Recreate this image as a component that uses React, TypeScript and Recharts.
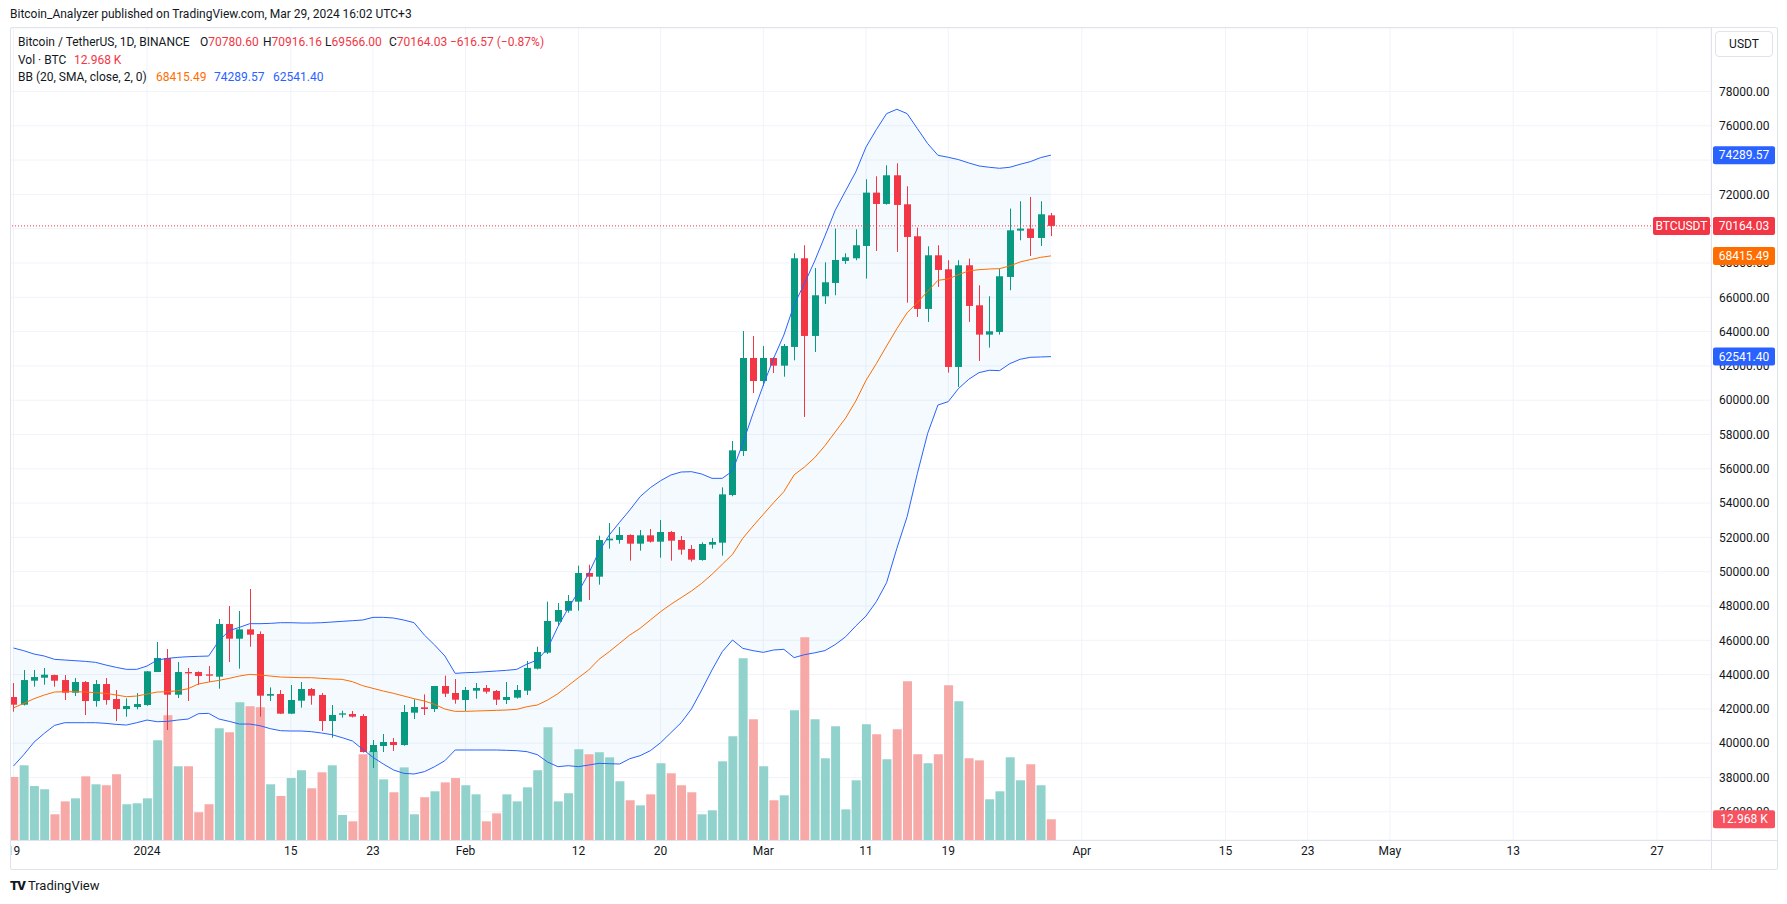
import React from 'react'
import { ComposedChart, Bar, Line, Area, XAxis, YAxis, CartesianGrid, ReferenceLine, Cell } from 'recharts'

// Daily candles, Dec 19 2023 .. Mar 29 2024 (day 0 = Jan 1 2024)
const FIRST_DAY = -13

const open = [
  42692, 42245, 43645, 43819, 43975, 43683, 42945, 43567, 42459, 43450, 42575, 41992, 42109,
  42226, 44150, 44966, 42828, 44150, 44150, 44014, 43878, 46949, 46094, 46638, 46366, 42770, 42868, 41722, 42480,
  43160, 42810, 41294, 41664, 41702, 41586, 39486, 39836, 40070, 39895, 41780, 42091, 41994, 43335, 42927,
  42519, 43063, 43218, 43044, 42519, 42655, 43063, 44346, 45278, 47086, 47727, 48253, 49924, 49710, 51829,
  51848, 52140, 51634, 52120, 51751, 52315, 51848, 51324, 50682, 51576, 51693, 54472, 57038,
  62461, 61120, 62461, 62014, 63106, 68275, 63747, 66060, 66837, 68120, 68275, 68994, 72104, 71443, 73115,
  71424, 69558, 65321, 68450, 67634, 61939, 67867, 65535, 63824, 63980, 67187, 69888, 70005, 69461, 70780.6,
]
const high = [
  43508, 44267, 44267, 44383, 44000, 43975, 43800, 43625, 43683, 43800, 43100, 42614, 42925,
  44209, 45900, 45491, 44733, 44383, 44189, 44500, 47241, 47999, 47707, 48990, 46521, 43256, 43100, 43393, 43568,
  43218, 42927, 42227, 41897, 41877, 41702, 40186, 40536, 40303, 42227, 42557, 42849, 43340, 43937, 43743,
  43277, 43510, 43393, 43102, 43568, 43393, 44793, 45628, 48253, 48175, 48641, 50352, 50410, 52101, 52839,
  52606, 52179, 52431, 52490, 53014, 52373, 52081, 51557, 51712, 51965, 54919, 57621, 64035,
  63744, 63161, 62500, 63277, 68567, 69034, 67712, 68042, 70005, 68567, 69966, 72882, 73057, 73697, 73815,
  72474, 70063, 68975, 69034, 68159, 68159, 68256, 66701, 66060, 67673, 71171, 71599, 71852, 71599, 70916.16,
]
const low = [
  41837, 42200, 43295, 43412, 43295, 42517, 42750, 41642, 42128, 42245, 41292, 41545, 41973,
  42180, 44150, 40767, 42634, 42459, 43392, 43567, 43178, 44733, 44345, 45627, 41545, 42459, 41700, 41700, 42071,
  42246, 40711, 40322, 41488, 41500, 39450, 38553, 39486, 39545, 39850, 41411, 41644, 41819, 42694, 42305,
  41877, 42596, 42888, 42227, 42285, 42596, 42810, 44300, 45200, 46853, 47611, 47727, 48350, 49244, 51343,
  51634, 50643, 51226, 51700, 50818, 50643, 50993, 50585, 50643, 51343, 50935, 54400, 56747,
  60420, 60828, 61586, 61372, 62327, 59023, 62813, 65613, 66118, 67945, 68159, 67090, 68703, 71404, 68645,
  65690, 64854, 64563, 66604, 61609, 60772, 64563, 62288, 63067, 63824, 66409, 69325, 68411, 68994, 69566,
]
const close = [
  42245, 43683, 43858, 43994, 43645, 42945, 43567, 42459, 43450, 42517, 41992, 42167, 42284,
  44190, 44966, 42828, 44150, 44073, 43917, 43936, 46949, 46094, 46638, 46327, 42770, 42867, 41722, 42519, 43160,
  42771, 41294, 41644, 41741, 41547, 39486, 39895, 40070, 39895, 41819, 42110, 41994, 43335, 42888, 42538,
  43102, 43218, 43005, 42538, 42694, 43102, 44390, 45317, 47125, 47766, 48291, 49924, 49710, 51848, 51926,
  52140, 51634, 52120, 51751, 52315, 51809, 51285, 50701, 51615, 51732, 54511, 57077, 62461,
  61120, 62461, 62014, 63161, 68275, 63747, 66118, 66876, 68178, 68334, 69034, 72104, 71443, 73115, 71385,
  69519, 65321, 68450, 67595, 61939, 67867, 65496, 63824, 64019, 67226, 69908, 70005, 69461, 70841, 70164.03,
]
// volume, thousands of BTC
const volume = [
  39.5, 46.8, 33.8, 31.8, 16.1, 24.2, 26.1, 39.9, 34.9, 34.3, 41.2, 22.4, 23.0,
  26.1, 62.5, 78.1, 46.2, 46.2, 17.4, 22.4, 70.0, 67.5, 86.3, 83.8, 83.1, 34.9, 27.6, 38.8, 43.7,
  32.4, 42.4, 46.8, 15.7, 11.7, 53.7, 55.8, 38.0, 29.9, 45.5, 16.1, 26.8, 30.5, 36.1, 38.8,
  34.3, 28.6, 11.7, 16.7, 28.6, 24.2, 33.0, 43.7, 70.6, 24.2, 29.3, 56.8, 53.7, 54.9, 51.8,
  36.8, 24.9, 21.7, 28.6, 48.1, 41.8, 34.3, 29.9, 16.1, 18.6, 49.3, 65.0, 113.8,
  75.6, 46.2, 24.9, 28.0, 81.3, 127.0, 75.6, 51.2, 71.2, 19.2, 37.4, 72.5, 66.2, 50.6, 69.4,
  99.4, 53.7, 48.1, 53.7, 96.9, 86.9, 51.2, 49.9, 25.5, 30.5, 51.8, 37.4, 47.4, 34.3, 12.968,
]
// Bollinger Bands (20, 2) as drawn
const bbUpper = [
  45550, 45394, 45200, 45083, 44889, 44850, 44811, 44772, 44714, 44558, 44422, 44306, 44306,
  44500, 44850, 44947, 45005, 45044, 45064, 45083, 45977, 46561, 46755, 46969, 46969, 46988, 47027, 47027, 47008,
  47008, 47027, 47066, 47105, 47144, 47183, 47338, 47338, 47299, 47183, 47027, 46308, 45725, 45083, 44072,
  44112, 44132, 44171, 44210, 44248, 44307, 44618, 44851, 45531, 46794, 47864, 48835, 49904, 51168, 52140,
  52878, 53598, 54375, 54900, 55308, 55638, 55813, 55833, 55697, 55444, 55444, 55872, 57485,
  59234, 60886, 62441, 63802, 65574, 66798, 68120, 69578, 71074, 72202, 73310, 74767, 75778, 76711, 76964,
  76711, 75836, 74962, 74281, 74164, 74029, 73834, 73659, 73582, 73523, 73582, 73757, 73912, 74145, 74289.57,
]
const bbMiddle = [
  42060, 42323, 42595, 42809, 42984, 43003, 43003, 42984, 42945, 42906, 42809, 42711, 42750,
  42867, 42984, 43003, 43061, 43178, 43450, 43567, 43664, 43781, 43917, 44014, 43975, 43917, 43858, 43839, 43820,
  43820, 43781, 43742, 43722, 43586, 43353, 43197, 43042, 42906, 42750, 42595, 42459, 42264, 41992, 41856,
  41858, 41877, 41897, 41916, 41935, 41974, 42130, 42226, 42518, 42888, 43354, 43821, 44268, 44890, 45337,
  45823, 46309, 46697, 47183, 47669, 48097, 48485, 48874, 49321, 49846, 50429, 51012, 51945,
  52665, 53345, 54025, 54666, 55650, 56100, 56650, 57350, 58150, 58950, 59950, 61160, 62130, 63160, 64170,
  65100, 65690, 66350, 66990, 67070, 67320, 67540, 67610, 67650, 67670, 67830, 68060, 68200, 68330, 68415.49,
]
const bbLower = [
  38670, 39330, 40060, 40575, 41040, 41195, 41195, 41195, 41195, 41156, 41098, 41059, 41195,
  41350, 41253, 41273, 41350, 41409, 41720, 41740, 41409, 41273, 41117, 41118, 41020, 40847, 40730, 40711, 40711,
  40672, 40594, 40497, 40322, 40128, 39642, 39175, 38787, 38437, 38243, 38204, 38340, 38631, 38981, 39603,
  39603, 39603, 39603, 39603, 39584, 39564, 39505, 39330, 38903, 38631, 38689, 38631, 38728, 38825, 38806,
  38786, 39097, 39272, 39564, 40030, 40613, 41196, 41993, 43101, 44267, 45336, 46017, 45531,
  45395, 45298, 45434, 45473, 44990, 45162, 45270, 45400, 45750, 46200, 46833, 47417, 48252, 49360, 51362,
  53209, 55736, 58068, 59720, 59915, 60680, 61220, 61608, 61745, 61725, 62133, 62386, 62502, 62520, 62541.40,
]

const timeTicks = [-13, 0, 14, 22, 31, 42, 50, 60, 70, 78, 91, 105, 113, 121, 133, 147]
const timeLabels = ['19', '2024', '15', '23', 'Feb', '12', '20', 'Mar', '11', '19', 'Apr', '15', '23', 'May', '13', '27']
const priceTicks = [36000, 38000, 40000, 42000, 44000, 46000, 48000, 50000, 52000, 54000, 56000, 58000,
  60000, 62000, 64000, 66000, 68000, 70000, 72000, 74000, 76000, 78000]

const UP = '#089981'
const DOWN = '#F23645'
const VOL_UP = '#92D2CC'
const VOL_DOWN = '#F7A9A7'
const BLUE = '#2962FF'
const ORANGE = '#FF6D00'
const TEXT = '#131722'
const BORDER = '#E0E3EB'
const FONT = 'Roboto, "Noto Sans", Arial, sans-serif'

const X_DOMAIN: [number, number] = [-13.34, 152.26]
const PRICE_DOMAIN: [number, number] = [34356, 81703]
const VOL_DOMAIN: [number, number] = [0, 508.7]

const data = open.map((o, i) => ({
  day: FIRST_DAY + i,
  o, h: high[i], l: low[i], c: close[i],
  v: volume[i],
  bu: bbUpper[i], bm: bbMiddle[i], bl: bbLower[i],
}))

const Candle = (props: any) => {
  const { x, y, width, height, payload } = props
  const { o, h, l, c } = payload
  const color = c >= o ? UP : DOWN
  const k = h === l ? 0 : height / (h - l)
  const top = y + (h - Math.max(o, c)) * k
  const bot = y + (h - Math.min(o, c)) * k
  const left = Math.round(x)
  const cx = left + Math.floor(width / 2) + 0.5
  return (
    <g>
      <line x1={cx} x2={cx} y1={y} y2={y + height} stroke={color} strokeWidth={1} />
      <rect x={left} y={top} width={width} height={Math.max(1, bot - top)} fill={color} />
    </g>
  )
}

const AxisTag = (props: any) => {
  const { viewBox, text, bg, left } = props
  const x = viewBox.x + viewBox.width
  const y = viewBox.y
  return (
    <g>
      {left && (
        <g>
          <rect x={x - 58} y={y - 9} width={57} height={18} rx={2} fill={bg} />
          <text x={x - 29.5} y={y + 4} textAnchor="middle" fontSize={12} fill="#fff" fontFamily={FONT}>{left}</text>
        </g>
      )}
      <rect x={x + 2} y={y - 9} width={62} height={18} rx={2} fill={bg} />
      <text x={x + 33} y={y + 4} textAnchor="middle" fontSize={12} fill="#fff" fontFamily={FONT}>{text}</text>
    </g>
  )
}

const abs = (left: number, top: number, extra: React.CSSProperties = {}): React.CSSProperties => ({
  position: 'absolute', left, top, whiteSpace: 'nowrap', ...extra,
})

export default function App() {
  return (
    <div style={{ position: 'absolute', left: 0, top: 0, width: 1787, height: 904, background: '#fff', fontFamily: FONT, color: TEXT, overflow: 'hidden' }}>
      <div style={abs(10, 7, { fontSize: 12 })}>Bitcoin_Analyzer published on TradingView.com, Mar 29, 2024 16:02 UTC+3</div>

      <div style={abs(10, 28, { width: 1767, height: 842, overflow: 'hidden' })}>
        <ComposedChart width={1767} height={842} data={data} margin={{ top: 0, right: 0, bottom: 0, left: 0 }}>
          <CartesianGrid stroke="#F0F3FA" />
          <XAxis dataKey="day" type="number" domain={X_DOMAIN} allowDataOverflow ticks={timeTicks} interval={0}
            tickFormatter={(v: number) => timeLabels[timeTicks.indexOf(v)] ?? ''}
            height={30} axisLine={false} tickLine={false} tickSize={4} tick={{ fontSize: 12, fill: TEXT, fontFamily: FONT }} />
          <XAxis xAxisId="v" dataKey="day" type="number" domain={X_DOMAIN} allowDataOverflow hide />
          <YAxis orientation="right" type="number" domain={PRICE_DOMAIN} allowDataOverflow ticks={priceTicks} interval={0}
            tickFormatter={(v: number) => v.toFixed(2)} width={66} axisLine={false} tickLine={false} tickSize={6} tickMargin={2}
            tick={{ fontSize: 12, fill: TEXT, fontFamily: FONT }} />
          <YAxis yAxisId="v" type="number" domain={VOL_DOMAIN} allowDataOverflow hide />

          <Bar xAxisId="v" yAxisId="v" dataKey="v" barSize={9} isAnimationActive={false}>
            {data.map((d, i) => <Cell key={i} fill={d.c >= d.o ? VOL_UP : VOL_DOWN} />)}
          </Bar>
          <Area dataKey={(d: any) => [d.bl, d.bu]} stroke="none" fill="#2196F3" fillOpacity={0.05} isAnimationActive={false} />
          <Line dataKey="bu" stroke={BLUE} strokeWidth={1} dot={false} isAnimationActive={false} />
          <Line dataKey="bl" stroke={BLUE} strokeWidth={1} dot={false} isAnimationActive={false} />
          <Line dataKey="bm" stroke={ORANGE} strokeWidth={1} dot={false} isAnimationActive={false} />
          <Bar dataKey={(d: any) => [d.l, d.h]} barSize={7} shape={<Candle />} isAnimationActive={false} />
          <ReferenceLine y={70164.03} stroke={DOWN} strokeDasharray="1 2" />
        </ComposedChart>
      </div>

      {/* value tags on the price axis, drawn above the tick labels with the same scales */}
      <div style={abs(10, 28, { width: 1767, height: 842, overflow: 'hidden', pointerEvents: 'none' })}>
        <ComposedChart width={1767} height={842} data={data} margin={{ top: 0, right: 66, bottom: 30, left: 0 }}>
          <XAxis dataKey="day" type="number" domain={X_DOMAIN} allowDataOverflow hide />
          <YAxis type="number" domain={PRICE_DOMAIN} allowDataOverflow hide />
          <YAxis yAxisId="v" type="number" domain={VOL_DOMAIN} allowDataOverflow hide />
          <ReferenceLine y={70164.03} stroke="none" label={<AxisTag text="70164.03" bg={DOWN} left="BTCUSDT" />} />
          <ReferenceLine y={74289.57} stroke="none" label={<AxisTag text="74289.57" bg={BLUE} />} />
          <ReferenceLine y={68415.49} stroke="none" label={<AxisTag text="68415.49" bg={ORANGE} />} />
          <ReferenceLine y={62541.4} stroke="none" label={<AxisTag text="62541.40" bg={BLUE} />} />
          <ReferenceLine yAxisId="v" y={12.968} stroke="none" label={<AxisTag text="12.968 K" bg="#F7525F" />} />
        </ComposedChart>
      </div>

      {/* frame and axis separators */}
      <div style={abs(10, 27, { width: 1768, height: 843, border: `1px solid ${BORDER}`, boxSizing: 'border-box', borderRadius: 2 })} />
      <div style={abs(1711, 27, { width: 1, height: 843, background: BORDER })} />
      <div style={abs(10, 840, { width: 1768, height: 1, background: BORDER })} />

      {/* legend */}
      <div style={{ fontSize: 12, lineHeight: '18px' }}>
        <span style={abs(18, 33)}>Bitcoin / TetherUS, 1D, BINANCE</span>
        <span style={abs(200, 33)}>O<span style={{ color: DOWN }}>70780.60</span></span>
        <span style={abs(263, 33)}>H<span style={{ color: DOWN }}>70916.16</span></span>
        <span style={abs(325, 33)}>L<span style={{ color: DOWN }}>69566.00</span></span>
        <span style={abs(389, 33)}>C<span style={{ color: DOWN }}>70164.03</span></span>
        <span style={abs(450, 33, { color: DOWN })}>−616.57 (−0.87%)</span>
        <span style={abs(18, 51)}>Vol · BTC</span>
        <span style={abs(74, 51, { color: DOWN })}>12.968 K</span>
        <span style={abs(18, 68)}>BB (20, SMA, close, 2, 0)</span>
        <span style={abs(156, 68, { color: ORANGE })}>68415.49</span>
        <span style={abs(214, 68, { color: BLUE })}>74289.57</span>
        <span style={abs(273, 68, { color: BLUE })}>62541.40</span>
      </div>

      <div style={abs(1715, 31, { width: 58, height: 26, border: `1px solid ${BORDER}`, borderRadius: 4, boxSizing: 'border-box', fontSize: 12, textAlign: 'center', lineHeight: '24px' })}>USDT</div>

      <div style={abs(10, 877, { fontSize: 13, lineHeight: '18px' })}>
        <span style={{ fontWeight: 900, letterSpacing: -1, marginRight: 3 }}>TV</span>TradingView
      </div>
    </div>
  )
}
